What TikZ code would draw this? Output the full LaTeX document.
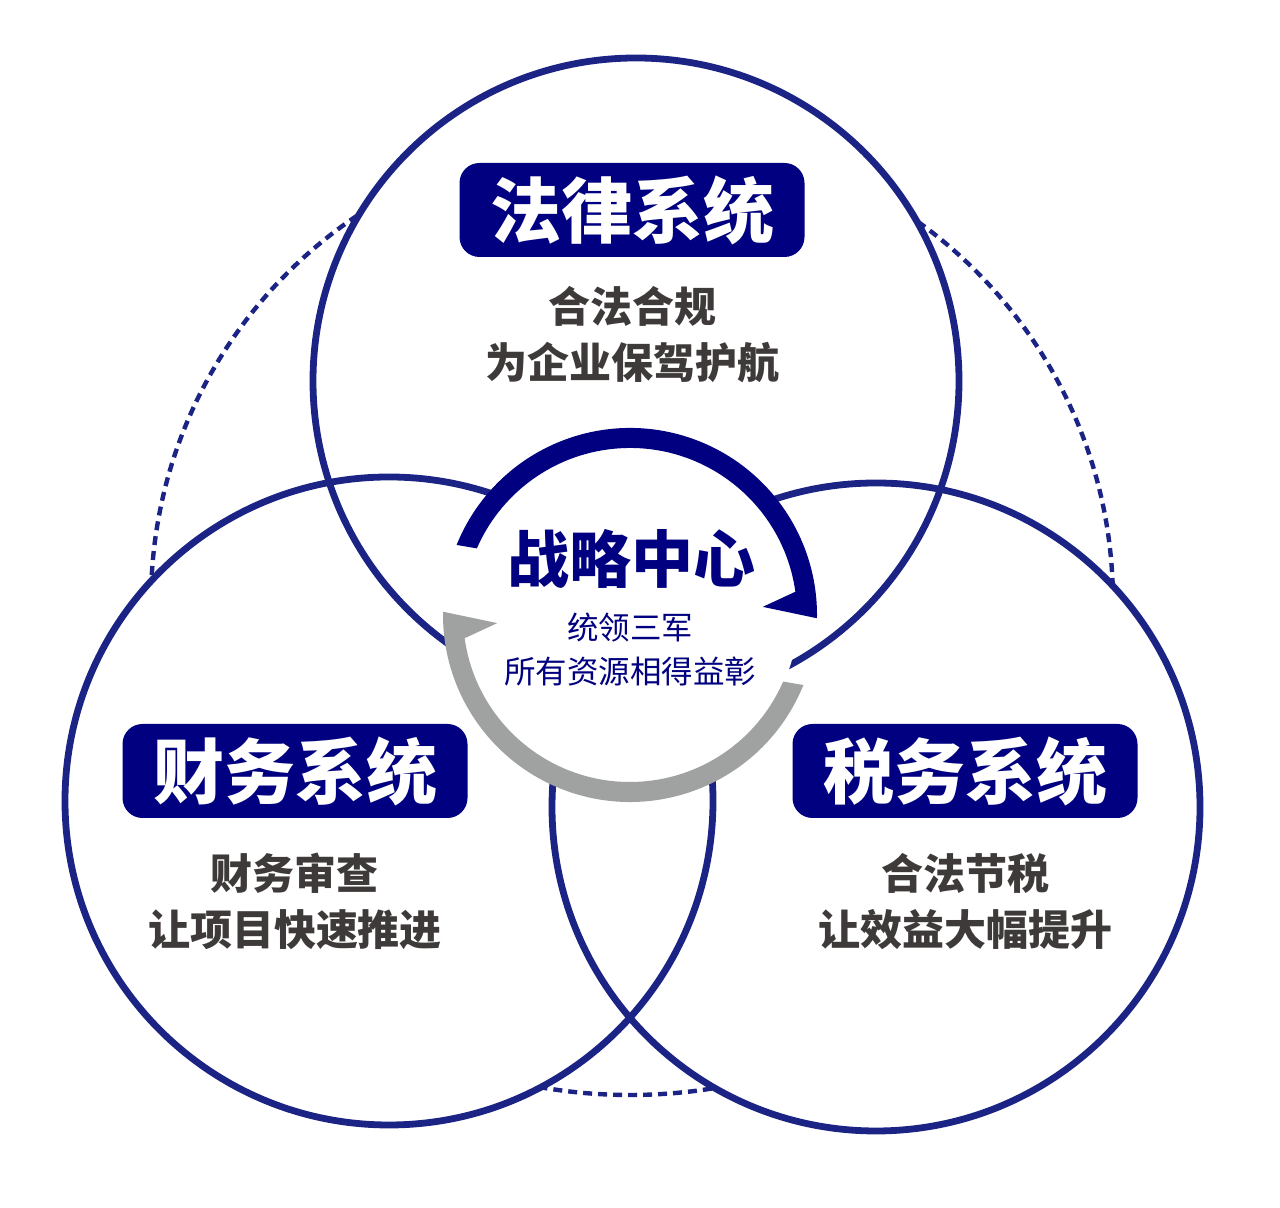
\documentclass[tikz,border=0pt]{standalone}
\usepackage{fontspec}
\newfontfamily\cjk{Noto Sans CJK SC}
\definecolor{circc}{RGB}{27,36,132}
\definecolor{navyc}{RGB}{0,0,128}
\definecolor{grayc}{RGB}{160,162,161}
\definecolor{txtc}{RGB}{62,58,57}
\tikzset{
  ring/.style={draw=circc, line width=3.4pt},
  dotring/.style={draw=circc, line width=2.2pt, dash pattern=on 4.5pt off 3pt},
  lbl/.style={fill=navyc, text=white, rounded corners=10pt, minimum width=172.5pt, minimum height=47pt, inner sep=0pt, font=\cjk\bfseries\fontsize{35.5}{40}\selectfont},
  subtxt/.style={text=txtc, align=center, inner sep=0pt, font=\cjk\bfseries\fontsize{21}{28}\selectfont},
  ctitle/.style={text=navyc, inner sep=0pt, font=\cjk\bfseries\fontsize{31}{36}\selectfont},
  csub/.style={text=navyc, align=center, inner sep=0pt, font=\cjk\fontsize{15.75}{22}\selectfont},
}
\newcommand\outsideclip{\clip (0,0) rectangle (1280,1208)
    (ctop) circle[radius=323] (cleft) circle[radius=324] (cright) circle[radius=324];}
\begin{document}
\begin{tikzpicture}[x=0.5pt, y=0.5pt]
\useasboundingbox (0,0) rectangle (1280,1208);
\coordinate (ctop) at (636,827);
\coordinate (cleft) at (389,407);
\coordinate (cright) at (876,401);
\coordinate (ctr) at (630,593);
\coordinate (dl) at (616,606);
\coordinate (dr) at (645,606);
\coordinate (db) at (630,629);
% dotted arcs, visible only outside the three circles
\begin{scope}
  \clip (0,560) rectangle (480,1208);
  \begin{scope}[even odd rule]
    \outsideclip
    \draw[dotring] (dl) circle[radius=465];
  \end{scope}
\end{scope}
\begin{scope}
  \clip (800,560) rectangle (1280,1208);
  \begin{scope}[even odd rule]
    \outsideclip
    \draw[dotring] (dr) circle[radius=468];
  \end{scope}
\end{scope}
\begin{scope}
  \clip (450,0) rectangle (830,200);
  \begin{scope}[even odd rule]
    \outsideclip
    \draw[dotring] (db) circle[radius=516];
  \end{scope}
\end{scope}
% three circles
\draw[ring] (ctop) circle[radius=323];
\draw[ring] (cleft) circle[radius=324];
\draw[ring] (cright) circle[radius=324];
% central white disk
\fill[white] (ctr) circle[radius=168];
% arrows
\begin{scope}[shift={(ctr)}]
  \fill[navyc] (158:187) arc[start angle=158, end angle=-1, radius=187]
     -- (3.5:133) -- (8:167) arc[start angle=8, end angle=156.5, radius=167] -- cycle;
  \fill[grayc] (-22:187) arc[start angle=-22, end angle=-181, radius=187]
     -- (-176.5:133) -- (-172:167) arc[start angle=-172, end angle=-23.5, radius=167] -- cycle;
\end{scope}
% labels
\node[lbl] (law) at (632,998) {法律系统};
\node[lbl] (fin) at (295,437) {财务系统};
\node[lbl] (tax) at (965,437) {税务系统};
\node[subtxt] (lawsub) at (632,873) {合法合规\\为企业保驾护航};
\node[subtxt] (finsub) at (295,306.5) {财务审查\\让项目快速推进};
\node[subtxt] (taxsub) at (965,306.5) {合法节税\\让效益大幅提升};
\node[ctitle] (center) at (631,649) {战略中心};
\node[csub] (centersub) at (630,558) {统领三军\\所有资源相得益彰};
\end{tikzpicture}
\end{document}
